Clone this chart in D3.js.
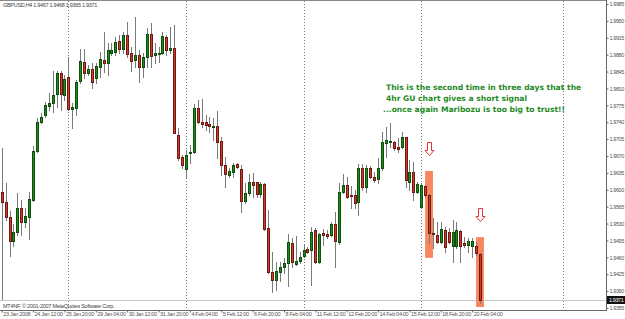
<!DOCTYPE html>
<html>
<head>
<meta charset="utf-8">
<script src="https://cdn.jsdelivr.net/npm/d3@7"></script>
<style>
  body { margin: 0; background: #fff; }
  svg { display: block; font-family: "Liberation Sans", Arial, sans-serif; }
</style>
</head>
<body>
<div id="chart"></div>
<script>
/* GBPUSD H4 candles, 23 Jan 04:00 -> 20 Feb 12:00 2008 */

const opens = [
  1.9595, 1.9575, 1.9544, 1.9494, 1.9513, 1.9562, 1.9533, 1.9544, 1.9579, 1.9680,
  1.9740, 1.9755, 1.9774, 1.9780, 1.9798, 1.9842, 1.9796, 1.9834, 1.9767, 1.9769,
  1.9825, 1.9865, 1.9842, 1.9850, 1.9832, 1.9854, 1.9869, 1.9863, 1.9883, 1.9886,
  1.9908, 1.9892, 1.9921, 1.9883, 1.9869, 1.9879, 1.9854, 1.9875, 1.9923, 1.9879,
  1.9881, 1.9883, 1.9917, 1.9890, 1.9894, 1.9714, 1.9668, 1.9643, 1.9676, 1.9678,
  1.9769, 1.9740, 1.9740, 1.9736, 1.9730, 1.9732, 1.9701, 1.9651, 1.9631, 1.9637,
  1.9653, 1.9643, 1.9577, 1.9593, 1.9616, 1.9616, 1.9591, 1.9612, 1.9521, 1.9430,
  1.9413, 1.9430, 1.9440, 1.9448, 1.9490, 1.9446, 1.9452, 1.9463, 1.9477, 1.9475,
  1.9517, 1.9450, 1.9510, 1.9508, 1.9506, 1.9529, 1.9492, 1.9595, 1.9610, 1.9589,
  1.9589, 1.9575, 1.9645, 1.9606, 1.9645, 1.9626, 1.9622, 1.9645, 1.9697, 1.9699,
  1.9699, 1.9689, 1.9689, 1.9709, 1.9616, 1.9637, 1.9595, 1.9564, 1.9608, 1.9589,
  1.9510, 1.9506, 1.9492, 1.9517, 1.9513, 1.9483, 1.9483, 1.9515, 1.9490, 1.9486,
  1.9483, 1.9483, 1.9467
];
const highs = [
  1.9687, 1.9614, 1.9556, 1.9529, 1.9593, 1.9579, 1.9562, 1.9595, 1.9691, 1.9749,
  1.9759, 1.9782, 1.9801, 1.9846, 1.9846, 1.9846, 1.9838, 1.9875, 1.9780, 1.9828,
  1.9892, 1.9892, 1.9859, 1.9863, 1.9863, 1.9886, 1.9927, 1.9904, 1.9904, 1.9917,
  1.9921, 1.9927, 1.9948, 1.9896, 1.9958, 1.9890, 1.9883, 1.9935, 1.9946, 1.9904,
  1.9896, 1.9927, 1.9921, 1.9937, 1.9941, 1.9728, 1.9672, 1.9682, 1.9693, 1.9778,
  1.9786, 1.9788, 1.9755, 1.9751, 1.9749, 1.9763, 1.9709, 1.9668, 1.9645, 1.9656,
  1.9656, 1.9651, 1.9614, 1.9633, 1.9635, 1.9616, 1.9616, 1.9614, 1.9558, 1.9471,
  1.9450, 1.9450, 1.9459, 1.9508, 1.9500, 1.9504, 1.9471, 1.9486, 1.9481, 1.9523,
  1.9521, 1.9510, 1.9519, 1.9517, 1.9533, 1.9554, 1.9614, 1.9633, 1.9626, 1.9608,
  1.9600, 1.9653, 1.9653, 1.9651, 1.9649, 1.9637, 1.9666, 1.9720, 1.9730, 1.9738,
  1.9701, 1.9707, 1.9720, 1.9709, 1.9662, 1.9658, 1.9616, 1.9614, 1.9610, 1.9591,
  1.9542, 1.9533, 1.9533, 1.9523, 1.9521, 1.9537, 1.9533, 1.9517, 1.9502, 1.9500,
  1.9500, 1.9492, 1.9468
];
const lows = [
  1.9374, 1.9537, 1.9463, 1.9483, 1.9506, 1.9506, 1.9523, 1.9498, 1.9577, 1.9678,
  1.9738, 1.9751, 1.9765, 1.9761, 1.9772, 1.9765, 1.9786, 1.9765, 1.9728, 1.9755,
  1.9821, 1.9832, 1.9838, 1.9811, 1.9821, 1.9834, 1.9844, 1.9838, 1.9879, 1.9879,
  1.9883, 1.9883, 1.9875, 1.9846, 1.9854, 1.9823, 1.9834, 1.9854, 1.9854, 1.9863,
  1.9865, 1.9881, 1.9879, 1.9883, 1.9718, 1.9662, 1.9645, 1.9624, 1.9656, 1.9676,
  1.9738, 1.9730, 1.9724, 1.9720, 1.9703, 1.9666, 1.9631, 1.9606, 1.9626, 1.9626,
  1.9645, 1.9554, 1.9573, 1.9589, 1.9585, 1.9585, 1.9585, 1.9517, 1.9428, 1.9388,
  1.9392, 1.9411, 1.9428, 1.9401, 1.9440, 1.9444, 1.9448, 1.9461, 1.9469, 1.9403,
  1.9448, 1.9448, 1.9486, 1.9500, 1.9504, 1.9440, 1.9488, 1.9593, 1.9583, 1.9562,
  1.9562, 1.9548, 1.9600, 1.9595, 1.9624, 1.9616, 1.9614, 1.9641, 1.9668, 1.9689,
  1.9682, 1.9678, 1.9687, 1.9606, 1.9600, 1.9579, 1.9593, 1.9564, 1.9585, 1.9490,
  1.9479, 1.9490, 1.9490, 1.9471, 1.9490, 1.9450, 1.9479, 1.9450, 1.9481, 1.9471,
  1.9461, 1.9465, 1.9365
];
const closes = [
  1.9575, 1.9544, 1.9494, 1.9513, 1.9562, 1.9533, 1.9546, 1.9581, 1.9680, 1.9740,
  1.9751, 1.9776, 1.9780, 1.9796, 1.9842, 1.9798, 1.9830, 1.9767, 1.9772, 1.9823,
  1.9867, 1.9842, 1.9850, 1.9823, 1.9857, 1.9871, 1.9863, 1.9890, 1.9890, 1.9906,
  1.9892, 1.9921, 1.9881, 1.9867, 1.9879, 1.9854, 1.9875, 1.9923, 1.9877, 1.9883,
  1.9883, 1.9919, 1.9890, 1.9894, 1.9718, 1.9666, 1.9651, 1.9672, 1.9678, 1.9769,
  1.9740, 1.9736, 1.9734, 1.9732, 1.9732, 1.9699, 1.9651, 1.9633, 1.9639, 1.9651,
  1.9647, 1.9577, 1.9593, 1.9616, 1.9610, 1.9591, 1.9612, 1.9519, 1.9430, 1.9413,
  1.9432, 1.9440, 1.9448, 1.9492, 1.9450, 1.9452, 1.9461, 1.9475, 1.9471, 1.9513,
  1.9450, 1.9508, 1.9506, 1.9504, 1.9529, 1.9494, 1.9595, 1.9610, 1.9585, 1.9587,
  1.9573, 1.9645, 1.9606, 1.9645, 1.9626, 1.9620, 1.9645, 1.9699, 1.9703, 1.9701,
  1.9687, 1.9685, 1.9709, 1.9620, 1.9637, 1.9595, 1.9612, 1.9610, 1.9589, 1.9510,
  1.9508, 1.9492, 1.9519, 1.9481, 1.9492, 1.9513, 1.9517, 1.9483, 1.9486, 1.9494,
  1.9494, 1.9469, 1.9371
];

// x axis labels, one every 8 bars
const timeLabels = ["23 Jan 2008", "24 Jan 12:00", "25 Jan 20:00", "29 Jan 04:00",
  "30 Jan 12:00", "31 Jan 20:00", "4 Feb 04:00", "5 Feb 12:00", "6 Feb 20:00",
  "8 Feb 04:00", "11 Feb 12:00", "12 Feb 20:00", "14 Feb 04:00", "15 Feb 12:00",
  "18 Feb 20:00", "20 Feb 04:00"];
const timeLabelBars = [0, 8, 16, 24, 32, 40, 48, 56, 64, 72, 80, 88, 96, 104, 112, 120];

const priceTicks = [1.9985, 1.9950, 1.9915, 1.9880, 1.9845, 1.9810, 1.9775, 1.9740,
  1.9705, 1.9670, 1.9635, 1.9600, 1.9565, 1.9530, 1.9495, 1.9460, 1.9425, 1.9390, 1.9355];

// week separators (Monday 00:00 bars) plus the extra dotted line on the right
const separatorBars = [17, 47, 77, 107, 143.2];

const noteLines = ["This is the second time in three days that the",
  "4hr GU chart gives a short signal",
  "...once again Maribozu is too big to trust!!"];

// highlighted candles: [first bar, last bar, top price, bottom price]
const highlights = [[108, 110, 1.9639, 1.9459], [121, 123, 1.9502, 1.9357]];
const arrowBars = [109, 122];
const arrowTops = [1.9700, 1.9562];

const width = 625, height = 319;
const plotRight = 606, plotBottom = 310;
const smallFont = 5.5;

const svg = d3.select("#chart").append("svg")
  .attr("width", width)
  .attr("height", height);

svg.append("rect")
  .attr("width", width).attr("height", height)
  .attr("fill", "#fff");

let x = d3.scaleLinear()
  .domain([0, 122])
  .range([1.7, 480]);

let y = d3.scaleLinear()
  .domain([1.9355, 1.9985])
  .range([308, 4]);

const px = v => Math.round(x(v));
const py = v => Math.round(y(v));

// frame
svg.append("line")
  .attr("x1", 0).attr("x2", plotRight).attr("y1", 0.5).attr("y2", 0.5)
  .attr("stroke", "#8a8a8a");

// bid line
svg.append("line")
  .attr("x1", 0).attr("x2", plotRight)
  .attr("y1", py(closes[closes.length - 1]) + 0.5)
  .attr("y2", py(closes[closes.length - 1]) + 0.5)
  .attr("stroke", "#c8c8c8");

// separators
svg.append("g")
  .selectAll("line")
  .data(separatorBars)
  .join("line")
  .attr("x1", d => px(d) + 0.5).attr("x2", d => px(d) + 0.5)
  .attr("y1", 1).attr("y2", plotBottom)
  .attr("stroke", "#777")
  .attr("stroke-dasharray", "1,2");

// highlight boxes
svg.append("g")
  .selectAll("rect")
  .data(highlights)
  .join("rect")
  .attr("x", d => x(d[0]))
  .attr("width", d => x(d[1]) - x(d[0]))
  .attr("y", d => y(d[2]))
  .attr("height", d => y(d[3]) - y(d[2]))
  .attr("fill", "#f6875f");

// candles
const bars = d3.range(opens.length).map(i => ({
  i, o: opens[i], h: highs[i], l: lows[i], c: closes[i]
}));

const candle = svg.append("g")
  .selectAll("g")
  .data(bars)
  .join("g");

candle.append("line")
  .attr("x1", d => px(d.i) + 0.5).attr("x2", d => px(d.i) + 0.5)
  .attr("y1", d => py(d.h)).attr("y2", d => py(d.l) + 1)
  .attr("stroke", "#7a7a7a");

candle.append("rect")
  .attr("x", d => px(d.i) - 0.5)
  .attr("width", 2)
  .attr("y", d => py(Math.max(d.o, d.c)) + 0.5)
  .attr("height", d => Math.max(0, py(Math.min(d.o, d.c)) - py(Math.max(d.o, d.c))))
  .attr("fill", d => d.c >= d.o ? "#1d8a1d" : "#d23a2c")
  .attr("stroke", d => d.c >= d.o ? "#0e4f0e" : "#6e1a12")
  .attr("stroke-width", 1);

// arrows (hollow, pointing down)
svg.append("g")
  .selectAll("path")
  .data(arrowBars.map((b, k) => ({ b, p: arrowTops[k] })))
  .join("path")
  .attr("d", d => {
    const cx = px(d.b) + 0.5, t = py(d.p) + 0.5;
    return `M${cx - 2},${t} H${cx + 2} V${t + 8} H${cx + 4.5} L${cx},${t + 13} L${cx - 4.5},${t + 8} H${cx - 2} Z`;
  })
  .attr("fill", "#fff")
  .attr("stroke", "#e8333a")
  .attr("stroke-width", 1);

// right price axis
svg.append("g")
  .attr("transform", `translate(${plotRight + 0.5},0)`)
  .call(d3.axisRight(y)
    .tickValues(priceTicks)
    .tickFormat(d3.format(".4f"))
    .tickSize(2)
    .tickPadding(1))
  .call(g => g.select(".domain").attr("stroke", "#666").attr("d", `M0,0V${plotBottom}`))
  .call(g => g.selectAll(".tick line").attr("stroke", "#666"))
  .call(g => g.selectAll(".tick text")
    .attr("font-size", smallFont)
    .attr("letter-spacing", -0.4)
    .attr("font-family", "Liberation Sans, Arial, sans-serif")
    .attr("fill", "#555"));

// current price box
const last = closes[closes.length - 1];
svg.append("rect")
  .attr("x", plotRight + 1).attr("y", py(last) - 4)
  .attr("width", width - plotRight - 1).attr("height", 8)
  .attr("fill", "#111");
svg.append("text")
  .attr("x", plotRight + 3).attr("y", py(last) + 2)
  .attr("font-size", smallFont)
  .attr("letter-spacing", -0.4)
  .attr("fill", "#fff")
  .text(last.toFixed(4));

// time axis
svg.append("g")
  .attr("transform", `translate(0,${plotBottom + 0.5})`)
  .call(d3.axisBottom(x)
    .tickValues(timeLabelBars)
    .tickFormat((d, k) => timeLabels[k])
    .tickSize(2)
    .tickPadding(1))
  .call(g => g.select(".domain").attr("stroke", "#666").attr("d", `M0,0H${plotRight + 1}`))
  .call(g => g.selectAll(".tick line").attr("stroke", "#666"))
  .call(g => g.selectAll(".tick text")
    .attr("text-anchor", "start")
    .attr("x", 1)
    .attr("y", 2)
    .attr("font-size", smallFont)
    .attr("letter-spacing", -0.3)
    .attr("font-family", "Liberation Sans, Arial, sans-serif")
    .attr("fill", "#555"));

// header and footer text
svg.append("text")
  .attr("x", 3).attr("y", 7)
  .attr("font-size", smallFont)
  .attr("letter-spacing", -0.3)
  .attr("fill", "#444")
  .text("GBPUSD,H4 1.9467 1.9468 1.9365 1.9371");

svg.append("text")
  .attr("x", 3).attr("y", 308)
  .attr("font-size", smallFont)
  .attr("letter-spacing", -0.25)
  .attr("fill", "#444")
  .text("MT4NF, \u00a9 2001-2007 MetaQuotes Software Corp.");

// note
svg.append("g")
  .selectAll("text")
  .data(noteLines)
  .join("text")
  .attr("x", (d, k) => k === 2 ? 383 : 386)
  .attr("y", (d, k) => 90 + k * 11)
  .attr("font-family", "DejaVu Sans, Verdana, sans-serif")
  .attr("font-size", 7.6)
  .attr("font-weight", "bold")
  .attr("fill", "#1f8a1f")
  .text(d => d);
</script>
</body>
</html>
